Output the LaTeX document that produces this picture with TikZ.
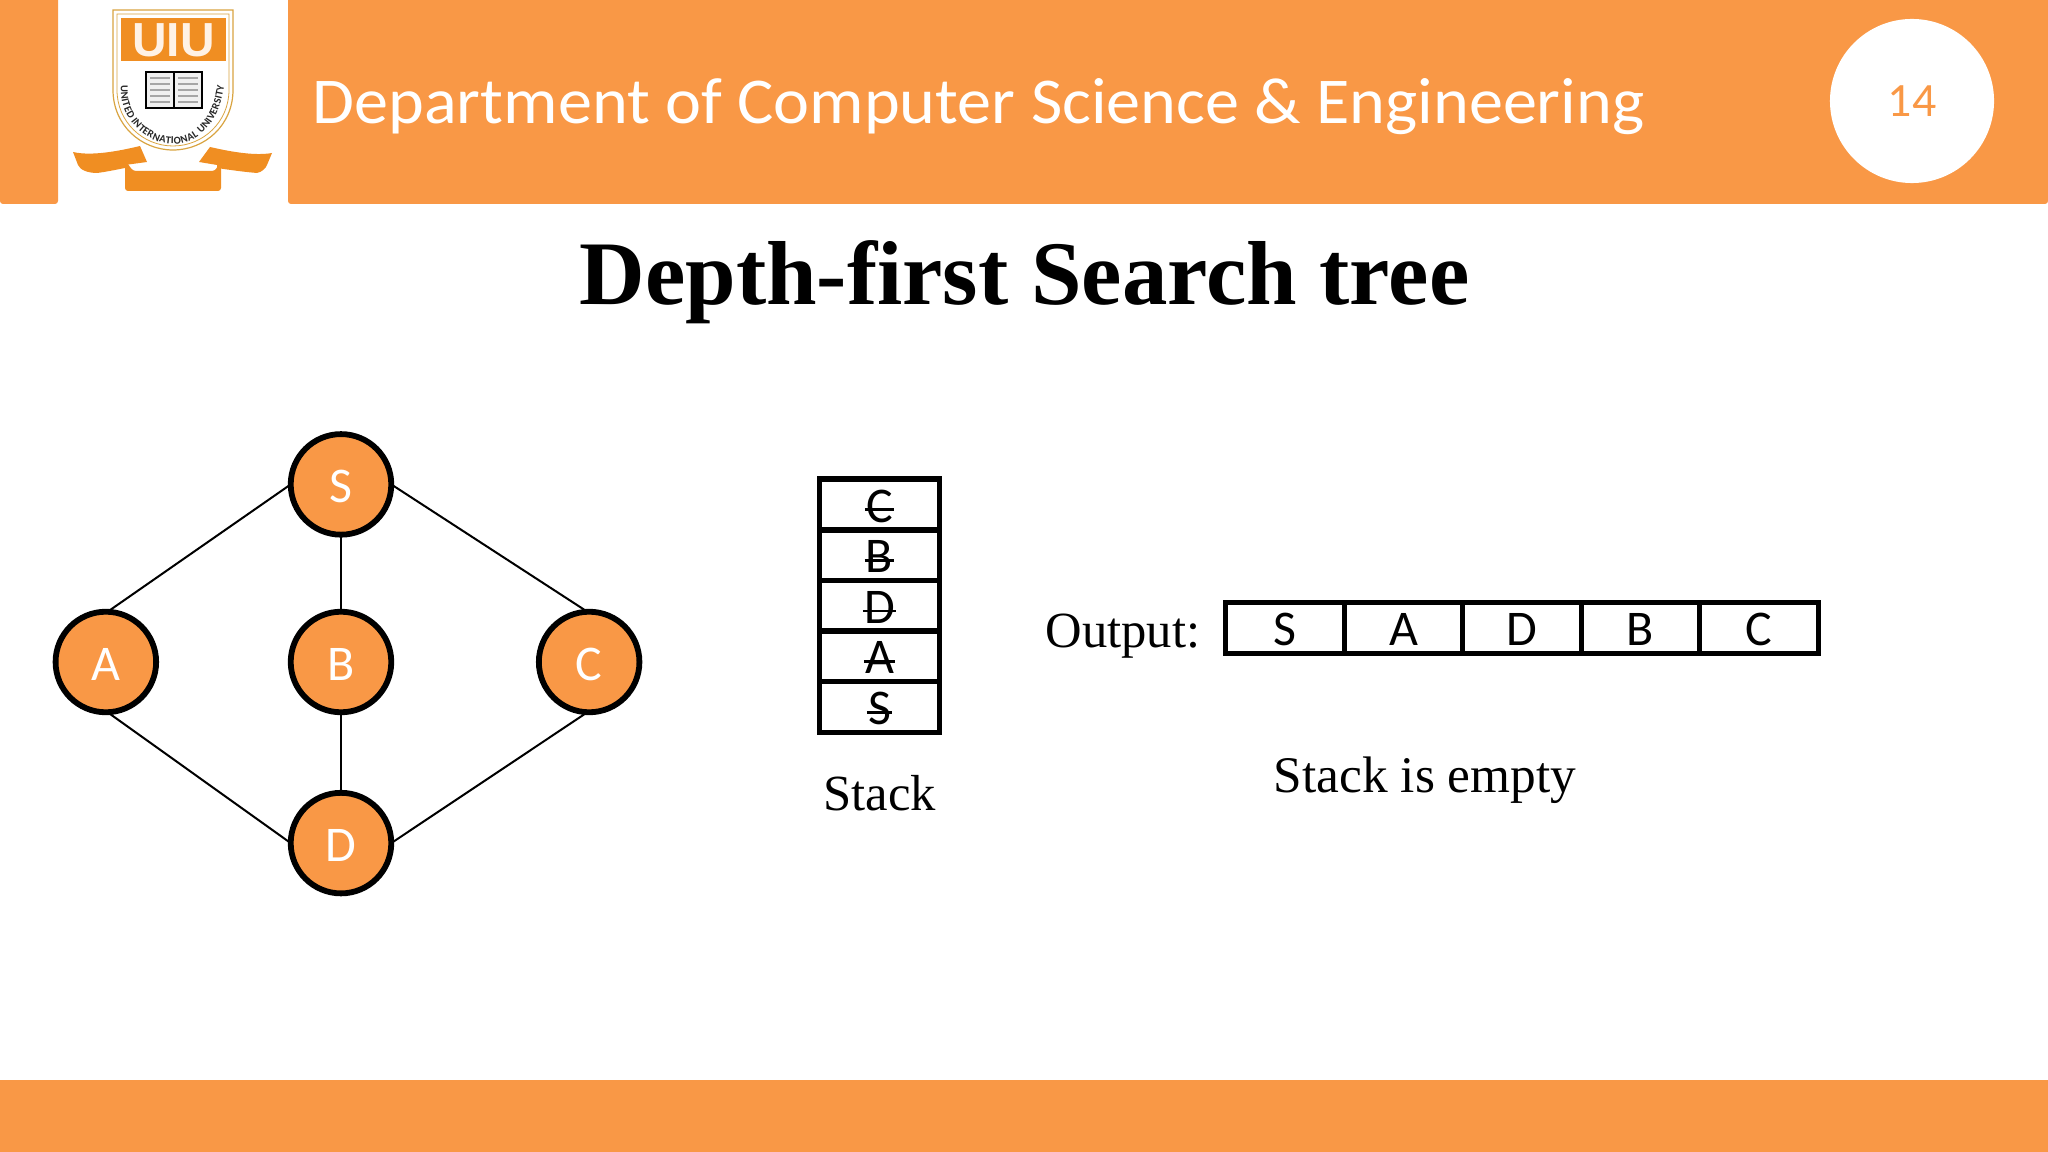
\documentclass[tikz,border=0pt]{standalone}
\usepackage{xcolor}
\usepackage{fontspec}
\usepackage{tikz}
\usetikzlibrary{positioning,decorations.text}
\setmainfont{Liberation Serif}
\setsansfont{Liberation Sans}
\newfontfamily\calibri{Carlito}
\newfontfamily\calibriwide[FakeStretch=1.042]{Carlito}
\definecolor{slideorange}{HTML}{F99846}
\definecolor{logoorange}{HTML}{F08E22}
\definecolor{shieldgold}{HTML}{D9A441}
\newlength{\strucklen}
\newcommand{\struck}[1]{\settowidth{\strucklen}{#1}\rlap{\hspace{-0.012cm}\rule[0.108cm]{\dimexpr\strucklen+0.024cm\relax}{0.028cm}}#1}

\begin{document}
\begin{tikzpicture}[
  x=0.01cm, y=-0.01cm,
  vertex/.style={circle, draw=black, line width=0.058cm, fill=slideorange, text=white,
    minimum size=1.005cm, inner sep=0pt, outer sep=0pt, text height=0.36cm, text depth=0cm,
    font=\calibri\fontsize{14.2}{16}\selectfont},
  stackcell/.style={draw=black, line width=0.055cm, minimum width=1.2cm, minimum height=0.506cm,
    inner sep=0pt, outer sep=0pt, text height=0.35cm, text depth=0cm,
    font=\calibri\fontsize{14.2}{16}\selectfont},
  outcell/.style={draw=black, line width=0.052cm, minimum width=1.184cm, minimum height=0.51cm,
    inner sep=0pt, outer sep=0pt, text height=0.35cm, text depth=0cm,
    font=\calibri\fontsize{14.2}{16}\selectfont},
  label/.style={anchor=base, inner sep=0pt, font=\fontsize{14.4}{16}\selectfont},
  edge/.style={draw=black, line width=0.02cm}
]
\path[use as bounding box] (0,0) rectangle (2048,1152);
% header and footer
\fill[slideorange] (0,0) -- (58,0) [rounded corners=0.03cm] -- (58,204) -- (0,204) [sharp corners] -- cycle;
\fill[slideorange] (2048,0) -- (288,0) [rounded corners=0.03cm] -- (288,204) -- (2048,204) [sharp corners] -- cycle;
\fill[slideorange] (0,1080) rectangle (2048,1152);
\node[anchor=base west, inner sep=0pt, text=white, font=\calibriwide\fontsize{18.6}{22}\selectfont] (dept) at (312,124)
  {Department of Computer Science \& Engineering};
\node[circle, fill=white, minimum size=1.64cm, inner sep=0pt, text=slideorange,
  font=\calibri\fontsize{13.6}{16}\selectfont] (page) at (1912,101) {14};
\node[anchor=base, inner sep=0pt, font=\fontsize{25.83}{30}\selectfont\bfseries] (title) at (1024.5,305) {Depth-first Search tree};
% logo
\draw[shieldgold, line width=0.012cm, fill=white] (113,10) -- (233,10) -- (233,90) .. controls (233,125) and (205,150) .. (173,150)
  .. controls (141,150) and (113,125) .. (113,90) -- cycle;
\draw[shieldgold, line width=0.008cm] (117,14) -- (229,14) -- (229,90) .. controls (229,122) and (203,146) .. (173,146)
  .. controls (143,146) and (117,122) .. (117,90) -- cycle;
\fill[logoorange] (121,18) rectangle (226,61);
\node[inner sep=0pt, text=white!90!orange, font=\sffamily\bfseries\fontsize{13.6}{15}\selectfont] (uiu) at (173.5,40) {UIU};
\path[decorate, decoration={text along path, text align=center, raise=-0.03cm,
  text={|\calibri\bfseries\fontsize{3}{3.5}\selectfont\color{black!85}|UNITED INTERNATIONAL UNIVERSITY}}]
  (124,70) -- (124,92) .. controls (124,118) and (148,141) .. (173,141) .. controls (198,141) and (222,118) .. (222,70);
\draw[black, line width=0.022cm, fill=black!6] (146,72) rectangle (202,108);
\draw[black, line width=0.015cm] (174,72) -- (174,108);
\foreach \liney in {78,84,90,96,102} {
  \draw[black!35, line width=0.02cm] (150,\liney) -- (170,\liney) (178,\liney) -- (198,\liney);
}
\fill[logoorange] (73,152) .. controls (90,156) and (115,152) .. (140,146) -- (147,162) -- (125,165) -- (125,168)
  .. controls (115,170) and (105,172) .. (97,173) .. controls (88,173) and (80,170) .. (78,165) -- cycle;
\fill[logoorange] (272,153) .. controls (255,156) and (232,152) .. (210,147) -- (199,162) -- (217,165) -- (217,168)
  .. controls (230,170) and (245,172) .. (257,173) .. controls (262,172) and (266,168) .. (267,165) -- cycle;
\fill[logoorange, rounded corners=0.03cm] (125,160) -- (133,171) -- (215,171) -- (221,160) -- (221,191) -- (125,191) -- cycle;
% graph
\node[vertex] (B) at (341,662) {B};
\node[vertex, above=1.775cm of B.center, anchor=center] (S) {S};
\node[vertex, left=2.35cm of B.center, anchor=center] (A) {A};
\node[vertex, right=2.48cm of B.center, anchor=center] (C) {C};
\node[vertex, below=1.81cm of B.center, anchor=center] (D) {D};
\draw[edge] (S.west) -- (A.88);
\draw[edge] (S) -- (B);
\draw[edge] (S.east) -- (C.92);
\draw[edge] (A.-88) -- (D.west);
\draw[edge] (B) -- (D);
\draw[edge] (C.-92) -- (D.east);
% stack
\node[stackcell] (cellC) at (879.5,504.5) {\struck{C}};
\node[stackcell, below=0pt of cellC] (cellB) {\struck{B}};
\node[stackcell, below=0pt of cellB] (cellD) {\struck{D}};
\node[stackcell, below=0pt of cellD] (cellA) {\struck{A}};
\node[stackcell, below=0pt of cellA] (cellS) {\struck{S}};
\node[label] (stacklabel) at (880,810) {Stack};
% output
\node[label] (outlabel) at (1123,647) {Output:};
\node[outcell] (outS) at (1285,628) {S};
\node[outcell, right=0pt of outS] (outA) {A};
\node[outcell, right=0pt of outA] (outD) {D};
\node[outcell, right=0pt of outD] (outB) {B};
\node[outcell, right=0pt of outB] (outC) {C};
\node[label, font=\fontsize{14.6}{16}\selectfont] (empty) at (1425,792) {Stack is empty};
\end{tikzpicture}
\end{document}
